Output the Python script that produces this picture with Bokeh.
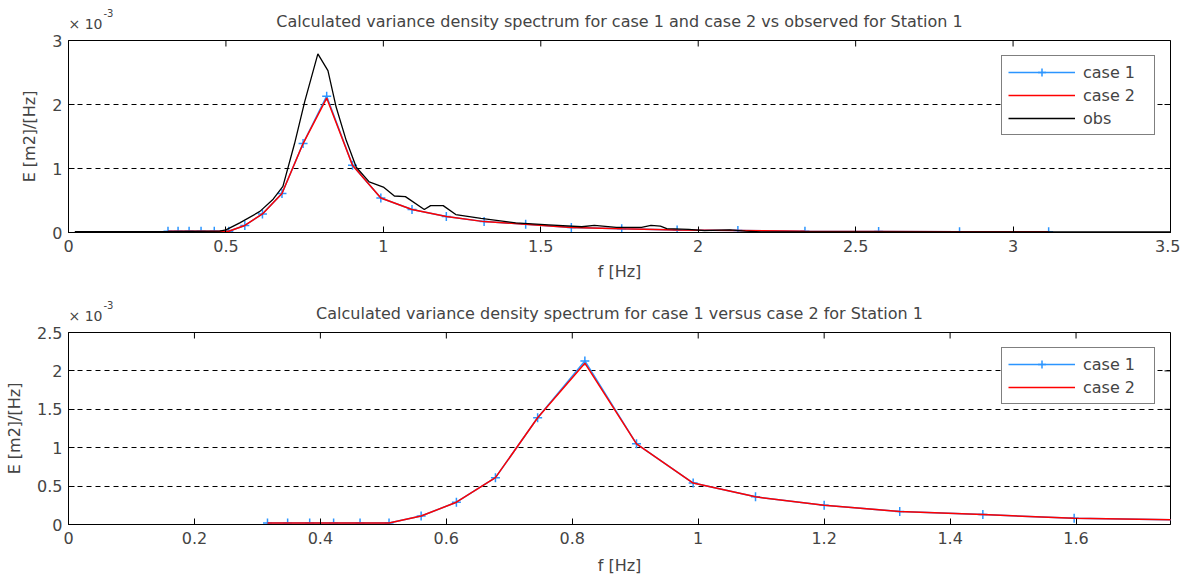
from bokeh.plotting import figure
from bokeh.models import (Range1d, FixedTicker, Label, Legend, LegendItem,
                          CustomJSTickFormatter)
from bokeh.layouts import column
from bokeh.embed import file_html
from bokeh.resources import INLINE

# ---------------- data (E in units of 1e-3 m2/Hz) ----------------
freq = [0.316, 0.348, 0.383, 0.421, 0.463, 0.509, 0.560, 0.616, 0.678, 0.745, 0.820,
        0.902, 0.992, 1.091, 1.200, 1.320, 1.452, 1.597, 1.757, 1.933, 2.126, 2.339,
        2.573, 2.830, 3.113]
case1 = [0.02, 0.02, 0.02, 0.02, 0.02, 0.02, 0.11, 0.29, 0.61, 1.39, 2.13,
         1.05, 0.54, 0.36, 0.25, 0.17, 0.13, 0.08, 0.06, 0.04, 0.03, 0.02,
         0.015, 0.01, 0.01]
case2 = [0.02, 0.02, 0.02, 0.02, 0.02, 0.02, 0.11, 0.29, 0.61, 1.39, 2.10,
         1.05, 0.54, 0.36, 0.25, 0.17, 0.13, 0.08, 0.06, 0.04, 0.03, 0.02,
         0.015, 0.01, 0.01]
obs_f = [0.02, 0.30, 0.48, 0.50, 0.544, 0.608, 0.65, 0.681, 0.718, 0.75, 0.792, 0.824,
         0.85, 0.882, 0.914, 0.955, 1.0, 1.035, 1.07, 1.13, 1.15, 1.19, 1.23, 1.31,
         1.42, 1.525, 1.63, 1.67, 1.74, 1.82, 1.85, 1.88, 1.9, 1.97, 2.02, 2.1, 2.15,
         2.2, 3.5]
obs_E = [0.015, 0.015, 0.02, 0.04, 0.15, 0.33, 0.52, 0.72, 1.39, 2.04, 2.79, 2.53,
         1.96, 1.44, 1.02, 0.79, 0.71, 0.57, 0.56, 0.36, 0.42, 0.42, 0.28, 0.22,
         0.15, 0.12, 0.09, 0.11, 0.08, 0.08, 0.11, 0.10, 0.06, 0.05, 0.03, 0.04, 0.02,
         0.01, 0.01]

top_xticks = [0, 0.5, 1, 1.5, 2, 2.5, 3, 3.5]
top_yticks = [0, 1, 2, 3]
bot_xticks = [0, 0.2, 0.4, 0.6, 0.8, 1.0, 1.2, 1.4, 1.6]
bot_yticks = [0, 0.5, 1, 1.5, 2, 2.5]

title_top = "Calculated variance density spectrum for case 1 and case 2 vs observed for Station 1"
title_bot = "Calculated variance density spectrum for case 1 versus case 2 for Station 1"
mult_base = "\u00d7 10"
mult_exp = "-3"

FONT = "DejaVu Sans"
BLUE = "#2b95ff"
RED = "#ff0000"
TICK_FS = "16px"
FIG_W = 1180
BORDER_L = 68
BORDER_R = 10
FRAME_W = FIG_W - BORDER_L - BORDER_R
FRAME_H = 192

fmt = CustomJSTickFormatter(code="return String(Math.round(tick*1000)/1000)")


def make_fig(h, border_top, border_bottom, xr, yr, xt, yt, title, xlab_standoff):
    p = figure(width=FIG_W, height=h, x_range=Range1d(*xr), y_range=Range1d(*yr),
               output_backend="svg", toolbar_location=None,
               min_border_left=BORDER_L, min_border_right=BORDER_R,
               min_border_top=border_top, min_border_bottom=border_bottom, title=title)
    p.background_fill_color = "white"
    p.border_fill_color = "white"
    p.outline_line_color = "black"
    p.title.align = "center"
    p.title.text_font = FONT
    p.title.text_font_size = "16px"
    p.title.text_font_style = "normal"
    p.title.standoff = -13
    for ax in (p.xaxis[0], p.yaxis[0]):
        ax.major_tick_in = 6
        ax.major_tick_out = 0
        ax.minor_tick_line_color = None
        ax.major_label_text_font = FONT
        ax.major_label_text_font_size = TICK_FS
        ax.axis_label_text_font = FONT
        ax.axis_label_text_font_size = "16px"
        ax.axis_label_text_font_style = "normal"
        ax.formatter = fmt
    p.xaxis[0].ticker = FixedTicker(ticks=xt)
    p.yaxis[0].ticker = FixedTicker(ticks=yt)
    p.xaxis[0].axis_label = "f [Hz]"
    p.yaxis[0].axis_label = "E [m2]/[Hz]"
    p.xaxis[0].major_label_standoff = 7
    p.xaxis[0].axis_label_standoff = xlab_standoff
    p.yaxis[0].major_label_standoff = 6
    p.yaxis[0].axis_label_standoff = 10
    p.xgrid.visible = False
    p.ygrid.ticker = FixedTicker(ticks=yt)
    p.ygrid.grid_line_color = "black"
    p.ygrid.grid_line_alpha = 1.0
    p.ygrid.grid_line_dash = "5 4"
    p.ygrid.grid_line_width = 1
    # box ticks on top and right edges (half of each dash is clipped by the frame)
    p.scatter(xt, [yr[1]] * len(xt), marker="dash", angle=1.5707963, size=12,
              line_color="black", line_width=1)
    p.scatter([xr[1]] * len(yt), yt, marker="dash", size=12,
              line_color="black", line_width=1)
    # "x 10^-3" multiplier above the top-left corner of the frame
    p.add_layout(Label(x=0, y=17, x_units="screen", y_units="screen", text=mult_base,
                       text_font=FONT, text_font_size="14px", text_baseline="alphabetic",
                       text_align="left"), "above")
    p.add_layout(Label(x=-(FRAME_W - 35), y=FRAME_H + 28, x_units="screen", y_units="screen",
                       text=mult_exp, text_font=FONT, text_font_size="10px",
                       text_baseline="middle", text_align="left"), "right")
    return p


# ---------------- top ----------------
p1 = make_fig(290, 40, 58, (0, 3.5), (0, 3), top_xticks, top_yticks, title_top, 7)
b1l = p1.line(freq, case1, line_color=BLUE, line_width=1.5)
b1s = p1.scatter(freq, case1, marker="cross", size=9, line_color=BLUE, line_width=1.5)
r1 = p1.line(freq, case2, line_color=RED, line_width=1.5)
o1 = p1.line(obs_f, obs_E, line_color="black", line_width=1.3)
leg1 = Legend(items=[LegendItem(label="case 1", renderers=[b1l, b1s]),
                     LegendItem(label="case 2", renderers=[r1]),
                     LegendItem(label="obs", renderers=[o1])],
              location="top_right", margin=15)
# ---------------- bottom ----------------
p2 = make_fig(289, 42, 55, (0, 1.75), (0, 2.5), bot_xticks, bot_yticks, title_bot, 9)
b2l = p2.line(freq, case1, line_color=BLUE, line_width=1.5)
b2s = p2.scatter(freq, case1, marker="cross", size=9, line_color=BLUE, line_width=1.5)
r2 = p2.line(freq, case2, line_color=RED, line_width=1.5)
leg2 = Legend(items=[LegendItem(label="case 1", renderers=[b2l, b2s]),
                     LegendItem(label="case 2", renderers=[r2])],
              location="top_right", margin=15)

for lg, p in ((leg1, p1), (leg2, p2)):
    lg.border_line_color = "black"
    lg.border_line_width = 1
    lg.background_fill_alpha = 1
    lg.label_text_font = FONT
    lg.label_text_font_size = "16px"
    lg.glyph_width = 67
    lg.glyph_height = 20
    lg.label_height = 20
    lg.label_width = 65
    lg.label_standoff = 8
    lg.spacing = 3
    lg.padding = 6
    p.add_layout(lg)

layout = column(p1, p2)
open("out.html", "w").write(file_html(layout, INLINE))
